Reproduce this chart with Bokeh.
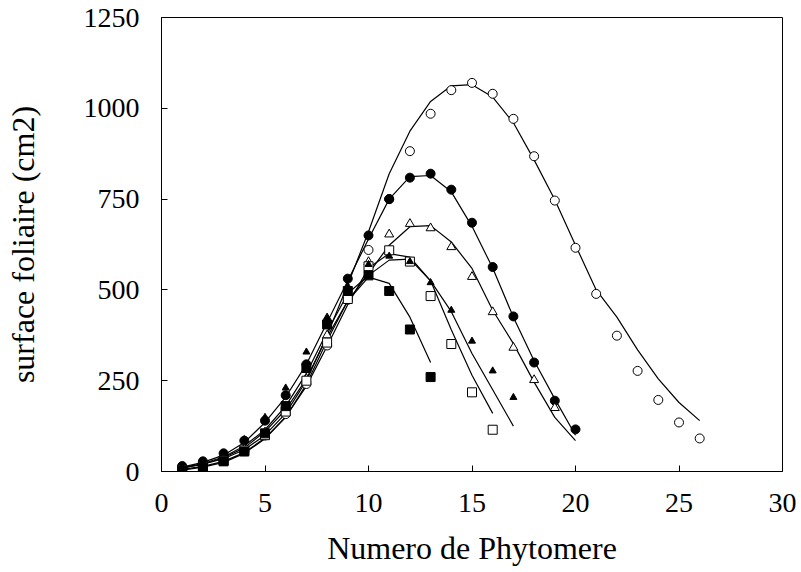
from bokeh.plotting import figure
from bokeh.models import Range1d, FixedTicker
from bokeh.embed import file_html
from bokeh.resources import INLINE

# ---- data ----
phyto = list(range(1, 27))

oc_obs = [8, 15, 30, 56, 99, 158, 241, 347, 473, 610, 750, 882, 985, 1050, 1070,
          1040, 971, 868, 746, 616, 489, 374, 277, 197, 135, 91]
fc_obs = [15, 28, 50, 85, 140, 210, 295, 410, 531, 650, 750, 809, 820, 776, 685,
          563, 427, 300, 195, 116]
ot_obs = [10, 20, 38, 62, 108, 170, 255, 375, 485, 577, 653, 682, 670, 618, 536,
          439, 341, 252, 175]
os_obs = [5, 15, 30, 58, 100, 165, 250, 355, 475, 565, 609, 578, 483, 351, 218, 115]
ft_obs = [12, 25, 50, 88, 149, 230, 329, 425, 510, 570, 593, 578, 520, 444, 359,
          277, 204]
fs_obs = [3, 12, 28, 55, 105, 180, 285, 405, 497, 540, 497, 391, 260]

oc_fit = [10, 20, 35, 60, 100, 160, 250, 375, 515, 660, 820, 937, 1019, 1062, 1065,
          1031, 960, 858, 748, 623, 500, 425, 335, 255, 190, 140]
fc_fit = [12, 25, 45, 80, 135, 205, 295, 410, 525, 640, 750, 812, 815, 770, 675,
          560, 425, 305, 200, 100]
ot_fit = [10, 20, 38, 65, 110, 170, 255, 370, 470, 545, 623, 674, 677, 632, 559,
          444, 352, 246, 149, 85]
os_fit = [6, 14, 28, 52, 92, 150, 235, 345, 460, 560, 600, 590, 525, 390, 265, 160]
ft_fit = [10, 22, 40, 70, 115, 180, 270, 385, 490, 540, 582, 585, 525, 440, 325,
          225, 125]
fs_fit = [4, 12, 25, 50, 90, 150, 240, 360, 470, 535, 518, 425, 300]

x_ticks = [0, 5, 10, 15, 20, 25, 30]
y_ticks = [0, 250, 500, 750, 1000, 1250]

FONT = "Liberation Serif"

p = figure(width=801, height=572, output_backend="svg", toolbar_location=None,
           x_range=Range1d(0, 30), y_range=Range1d(0, 1250),
           min_border_left=161, min_border_top=17, min_border_right=19,
           min_border_bottom=101)

p.grid.visible = False
p.outline_line_color = "black"
p.outline_line_width = 1
p.background_fill_color = "white"
p.border_fill_color = "white"

for ax in (p.xaxis[0], p.yaxis[0]):
    ax.major_tick_in = 6
    ax.major_tick_out = 0
    ax.minor_tick_in = 0
    ax.minor_tick_out = 0
    ax.axis_line_color = "black"
    ax.major_tick_line_color = "black"
    ax.major_label_text_font = FONT
    ax.major_label_text_font_size = "28px"
    ax.major_label_text_color = "black"
    ax.axis_label_text_font = FONT
    ax.axis_label_text_font_size = "32px"
    ax.axis_label_text_font_style = "normal"
    ax.axis_label_text_color = "black"

p.xaxis.ticker = FixedTicker(ticks=x_ticks)
p.yaxis.ticker = FixedTicker(ticks=y_ticks)
p.xaxis.axis_label = "Numero de Phytomere"
p.yaxis.axis_label = "surface foliaire (cm2)"
p.xaxis.major_label_standoff = 22
p.yaxis.major_label_standoff = 22
p.xaxis.axis_label_standoff = 15
p.yaxis.axis_label_standoff = 40

def fit_line(vals):
    p.line(phyto[:len(vals)], vals, line_color="black", line_width=1.2)

for fit in (oc_fit, fc_fit, ot_fit, os_fit, ft_fit, fs_fit):
    fit_line(fit)

def pts(vals, marker, size, fill):
    p.scatter(phyto[:len(vals)], vals, marker=marker, size=size,
              line_color="black", line_width=1,
              fill_color=fill)

pts(oc_obs, "circle", 9, "white")
pts(fc_obs, "circle", 9, "black")
pts(ot_obs, "triangle", 9, "white")
pts(os_obs, "square", 9, "white")
pts(ft_obs, "triangle", 7, "black")
pts(fs_obs, "square", 9, "black")

open("out.html", "w").write(file_html(p, INLINE))
